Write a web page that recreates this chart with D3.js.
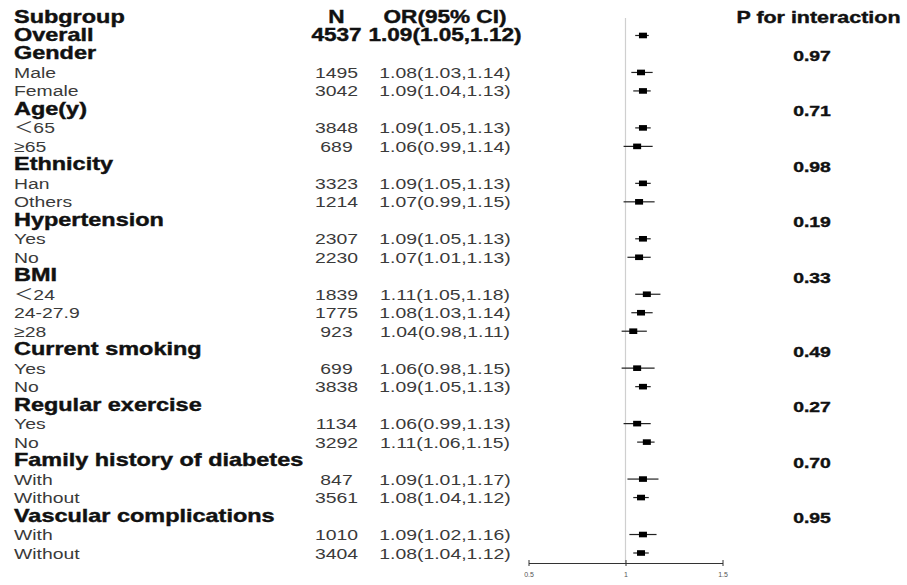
<!DOCTYPE html>
<html><head><meta charset="utf-8">
<script src="https://cdn.jsdelivr.net/npm/d3@7"></script>
<style>body{margin:0;background:#fff}svg{display:block}</style>
</head><body>
<svg id="c" width="907" height="585"></svg>
<script>
// ---- data ----
const labels = ["Subgroup","Overall","Gender","Male","Female","Age(y)","＜65","≥65","Ethnicity","Han","Others","Hypertension","Yes","No","BMI","＜24","24-27.9","≥28","Current smoking","Yes","No","Regular exercise","Yes","No","Family history of diabetes","With","Without","Vascular complications","With","Without"];
const isHeader = [1,1,1,0,0,1,0,0,1,0,0,1,0,0,1,0,0,0,1,0,0,1,0,0,1,0,0,1,0,0];
const nValues = ["N","4537","","1495","3042","","3848","689","","3323","1214","","2307","2230","","1839","1775","923","","699","3838","","1134","3292","","847","3561","","1010","3404"];
const orEst =  [null,1.09,null,1.08,1.09,null,1.09,1.06,null,1.09,1.07,null,1.09,1.07,null,1.11,1.08,1.04,null,1.06,1.09,null,1.06,1.11,null,1.09,1.08,null,1.09,1.08];
const orLow =  [null,1.05,null,1.03,1.04,null,1.05,0.99,null,1.05,0.99,null,1.05,1.01,null,1.05,1.03,0.98,null,0.98,1.05,null,0.99,1.06,null,1.01,1.04,null,1.02,1.04];
const orHigh = [null,1.12,null,1.14,1.13,null,1.13,1.14,null,1.13,1.15,null,1.13,1.13,null,1.18,1.14,1.11,null,1.15,1.13,null,1.13,1.15,null,1.17,1.12,null,1.16,1.12];
const pValues = ["P for interaction","","0.97","","","0.71","","","0.98","","","0.19","","","0.33","","","","0.49","","","0.27","","","0.70","","","0.95","",""];
const xTicks = [0.5, 1, 1.5];

// ---- layout ----
const svg = d3.select("#c");
const idx = d3.range(labels.length);
const y = d3.scalePoint().domain(idx).range([17, 553]);
const x = d3.scaleLinear().domain([0.5, 1.5]).range([528.5, 722.5]);
const fmt = d3.format(".2f");
const orText = i => i === 0 ? "OR(95% CI)" : (orEst[i] == null ? "" : `${fmt(orEst[i])}(${fmt(orLow[i])},${fmt(orHigh[i])})`);
const bold = i => i <= 1;

function txt(g, tx, ty, s, b, anchor, size, sx) {
  const t = g.append("text")
    .attr("transform", `translate(${tx},${ty}) scale(${sx},1)`)
    .attr("text-anchor", anchor)
    .attr("font-family", "'Liberation Sans', Arial, 'Noto Sans CJK SC', sans-serif")
    .attr("font-weight", b ? "bold" : "normal")
    .attr("font-size", size)
    .attr("fill", b ? "#111" : "#3a3a3a")
    .text(s);
  if (b) t.attr("stroke", "#111").attr("stroke-width", 0.4);
}

const g = svg.append("g");
const BS = 17.5, BX = 1.34, RS = 15.5, RX = 1.25, CX = 1.29;
idx.forEach(i => {
  const yy = y(i) + 5.5;
  const hb = isHeader[i] === 1;
  txt(g, 14, yy, labels[i], hb, "start", hb ? BS : RS, hb ? BX : RX);
  if (nValues[i]) txt(g, 336.5, yy, nValues[i], bold(i), "middle", bold(i) ? BS : RS, bold(i) ? CX : RX);
  const o = orText(i);
  if (o) txt(g, 445, yy, o, bold(i), "middle", bold(i) ? BS : RS, bold(i) ? CX : RX);
  if (pValues[i]) {
    if (i === 0) txt(g, 818.5, yy, pValues[i], true, "middle", 16.5, 1.3);
    else txt(g, 812, y(i) + 7, pValues[i], true, "middle", 15.5, 1.25);
  }
});

// reference line
svg.append("line").attr("x1", x(1)).attr("x2", x(1)).attr("y1", 18).attr("y2", 563)
  .attr("stroke", "#cfcfcf").attr("stroke-width", 1.2);

// CI and boxes
const pts = idx.filter(i => orEst[i] != null);
svg.selectAll("line.ci").data(pts).join("line").attr("class", "ci")
  .attr("x1", i => x(orLow[i])).attr("x2", i => x(orHigh[i]))
  .attr("y1", i => y(i)).attr("y2", i => y(i))
  .attr("stroke", "#222").attr("stroke-width", 1.2);
svg.selectAll("rect.box").data(pts).join("rect").attr("class", "box")
  .attr("x", i => x(orEst[i]) - 4).attr("y", i => y(i) - 2.8)
  .attr("width", 8).attr("height", 5.6).attr("fill", "#000");

// axis
const ax = svg.append("g").attr("transform", "translate(0,563)")
  .call(d3.axisBottom(x).tickValues(xTicks).tickSize(4).tickSizeOuter(0).tickFormat(d3.format("")));
ax.select(".domain").attr("stroke", "#333").attr("stroke-width", 1.2);
ax.selectAll(".tick line").attr("stroke", "#333").attr("y1", -3).attr("y2", 3);
ax.selectAll(".tick text").attr("y", 9).attr("font-size", 7).attr("fill", "#555")
  .attr("font-family", "'Liberation Sans', Arial, sans-serif");
</script>
</body></html>
